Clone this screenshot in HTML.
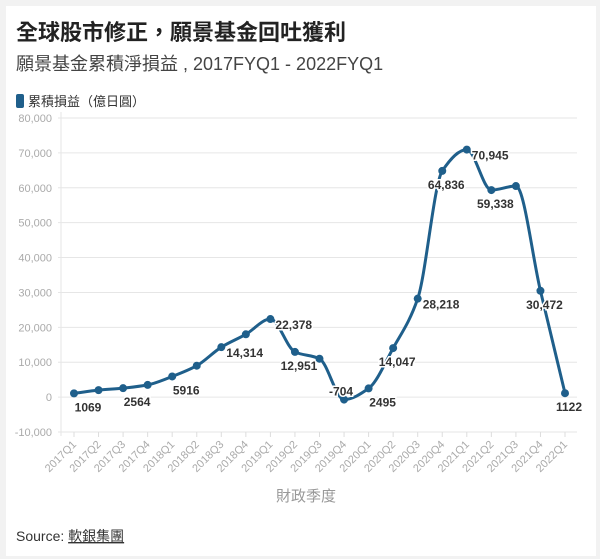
<!DOCTYPE html>
<html><head><meta charset="utf-8">
<style>
body{margin:0;background:#f2f2f2;width:600px;height:559px;overflow:hidden;font-family:"Liberation Sans","Noto Sans CJK TC",sans-serif;}
#card{position:absolute;left:6px;top:6px;width:590px;height:550px;background:#fff;}
svg text{font-family:"Liberation Sans","Noto Sans CJK TC",sans-serif;}
</style></head><body>
<div id="card"></div>
<svg id="chart" width="600" height="559" style="position:absolute;left:0;top:0">
<text x="16" y="40" font-size="22" font-weight="bold" fill="#222">全球股市修正，願景基金回吐獲利</text>
<text x="16" y="70" font-size="18" fill="#444">願景基金累積淨損益 , 2017FYQ1 - 2022FYQ1</text>
<rect x="16" y="94" width="8" height="14" rx="2" fill="#1f5f8b"/>
<text x="28" y="106" font-size="13" fill="#333">累積損益（億日圓）</text>
<text x="306" y="501" font-size="15" fill="#999" text-anchor="middle">財政季度</text>
<text x="16" y="541" font-size="14" fill="#333">Source: <tspan text-decoration="underline">軟銀集團</tspan></text>
<g id="grid"></g><g id="plot"></g>
</svg>
<script>
const categories=['2017Q1','2017Q2','2017Q3','2017Q4','2018Q1','2018Q2','2018Q3','2018Q4','2019Q1','2019Q2','2019Q3','2019Q4','2020Q1','2020Q2','2020Q3','2020Q4','2021Q1','2021Q2','2021Q3','2021Q4','2022Q1'];
const values=[1069,2000,2564,3500,5916,9000,14314,18000,22378,12951,11000,-704,2495,14047,28218,64836,70945,59338,60500,30472,1122];
const printed=['1069',null,'2564',null,'5916',null,'14,314',null,'22,378','12,951',null,'-704','2495','14,047','28,218','64,836','70,945','59,338',null,'30,472','1122'];
const labelSide=['belowright',null,'belowright',null,'belowright',null,'right',null,'right','below',null,'left','belowright','below','right','below','right','below',null,'below','below'];
const yTicks=[-10000,0,10000,20000,30000,40000,50000,60000,70000,80000];
const ns='http://www.w3.org/2000/svg';
const x0=74,x1=565,yTop=118,yBot=432,vMin=-10000,vMax=80000;
const xs=i=>x0+(x1-x0)*i/(categories.length-1);
const ys=v=>yBot-(v-vMin)/(vMax-vMin)*(yBot-yTop);
const grid=document.getElementById('grid'),plot=document.getElementById('plot');
function mk(tag,attrs,parent,txt){const e=document.createElementNS(ns,tag);for(const k in attrs)e.setAttribute(k,attrs[k]);if(txt!=null)e.textContent=txt;parent.appendChild(e);return e;}
yTicks.forEach(t=>{
 const l=mk('line',{x1:58,x2:577,y1:ys(t),y2:ys(t),stroke:'#e6e6e6','stroke-width':1},grid);
 
 
 const tx=mk('text',{x:52,y:ys(t)+4,'font-size':11,fill:'#aaa','text-anchor':'end'},grid,t.toLocaleString('en-US'));
 
 
});
const ax=mk('line',{x1:61,x2:61,y1:112,y2:436,stroke:'#e6e6e6'},grid);


categories.forEach((c,i)=>{
 const tk=mk('line',{x1:xs(i),x2:xs(i),y1:432,y2:437,stroke:'#ddd'},grid);
 
 
 const t=mk('text',{x:xs(i)+3,y:445,'font-size':11,fill:'#aaa','text-anchor':'end',transform:`rotate(-45 ${xs(i)+3} 445)`},grid,c);
 
 
});
// monotone cubic path
const P=values.map((v,i)=>[xs(i),ys(v)]);
const n=P.length,h=P[1][0]-P[0][0];
const dl=[];for(let i=0;i<n-1;i++)dl.push((P[i+1][1]-P[i][1])/h);
const m=[];for(let i=0;i<n;i++){
 if(i===0)m.push(dl[0]);else if(i===n-1)m.push(dl[n-2]);
 else{const a=dl[i-1],b=dl[i];m.push(a*b<=0?0:(3*2*a*b)/( (a+b)*3 ));}
}
let d=`M${P[0][0]},${P[0][1]}`;
for(let i=0;i<n-1;i++){
 d+=` C${P[i][0]+h/3},${P[i][1]+m[i]*h/3} ${P[i+1][0]-h/3},${P[i+1][1]-m[i+1]*h/3} ${P[i+1][0]},${P[i+1][1]}`;}
const line=mk('path',{d:d,fill:'none',stroke:'#1f5f8b','stroke-width':3},plot);


values.forEach((v,i)=>{
 const c=mk('circle',{cx:xs(i),cy:ys(v),r:4,fill:'#1f5f8b'},plot);
 
 
 if(printed[i]){
  let x=xs(i),y=ys(v),a='start';
  const s=labelSide[i];
  if(s==='below'){y+=18;a='middle';x+=4;}
  else if(s==='belowright'){y+=18;a='middle';x+=14;}
  else if(s==='right'){x+=5;y+=10;}
  else {x+=-3;y-=4;a='middle';}
  const t=mk('text',{x:x,y:y,'font-size':12,'font-weight':'bold',fill:'#333','text-anchor':a,stroke:'#fff','stroke-width':3,'paint-order':'stroke'},plot,printed[i]);
  
  
 }
});
</script>
</body></html>
